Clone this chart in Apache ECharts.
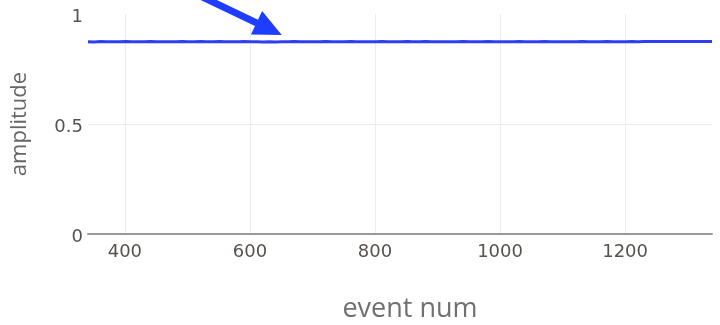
<!DOCTYPE html>
<html>
<head>
<meta charset="utf-8">
<script src="https://cdn.jsdelivr.net/npm/echarts@6/dist/echarts.min.js"></script>
<style>
  html, body { margin: 0; padding: 0; background: #fff; }
  #chart { width: 720px; height: 325px; }
</style>
</head>
<body>
<div id="chart"></div>
<script>
// Event numbers sampled along the run
const eventNum = [
  341, 351, 361, 371, 381, 391, 401, 411, 421, 431,
  441, 451, 461, 471, 481, 491, 501, 511, 521, 531,
  541, 551, 561, 571, 581, 591, 601, 611, 621, 631,
  641, 651, 661, 671, 681, 691, 701, 711, 721, 731,
  741, 751, 761, 771, 781, 791, 801, 811, 821, 831,
  841, 851, 861, 871, 881, 891, 901, 911, 921, 931,
  941, 951, 961, 971, 981, 991, 1001, 1011, 1021, 1031,
  1041, 1051, 1061, 1071, 1081, 1091, 1101, 1111, 1121, 1131,
  1141, 1151, 1161, 1171, 1181, 1191, 1201, 1211, 1221, 1231,
  1241, 1251, 1261, 1271, 1281, 1291, 1301, 1311, 1321, 1331,
  1339
];

// Measured amplitude for each event
const amplitude = [
  0.874, 0.873, 0.8745, 0.8735, 0.874, 0.8735, 0.8745, 0.874, 0.8735, 0.874,
  0.8745, 0.8735, 0.874, 0.8735, 0.874, 0.8745, 0.8735, 0.874, 0.8745, 0.874,
  0.8735, 0.8745, 0.874, 0.8735, 0.874, 0.8745, 0.874, 0.8735, 0.873, 0.8735,
  0.873, 0.8735, 0.874, 0.8745, 0.874, 0.8735, 0.874, 0.8735, 0.8745, 0.874,
  0.8735, 0.874, 0.8745, 0.874, 0.8735, 0.874, 0.8735, 0.8745, 0.874, 0.8735,
  0.874, 0.8745, 0.8735, 0.874, 0.8745, 0.874, 0.8735, 0.874, 0.8735, 0.874,
  0.8745, 0.874, 0.8735, 0.874, 0.8745, 0.8735, 0.874, 0.8735, 0.874, 0.8745,
  0.874, 0.8735, 0.874, 0.8745, 0.874, 0.8735, 0.874, 0.8735, 0.874, 0.8745,
  0.874, 0.8735, 0.874, 0.8745, 0.874, 0.8735, 0.874, 0.8745, 0.874, 0.8745,
  0.875, 0.8745, 0.875, 0.8745, 0.875, 0.8755, 0.875, 0.8745, 0.875, 0.8755,
  0.875
];

// Axis tick labels
const xTicks = [400, 600, 800, 1000, 1200];
const yTicks = [0, 0.5, 1];

// Annotation arrow, in data coordinates (tail -> head)
const arrowFrom = [522, 1.08];
const arrowTo = [651, 0.905];

const chart = echarts.init(document.getElementById('chart'), null, { renderer: 'canvas' });

const tickFont = { fontFamily: 'DejaVu Sans', fontSize: 18, color: '#57524f' };

chart.setOption({
  animation: false,
  backgroundColor: '#ffffff',
  grid: { left: 88, right: 8, top: 14, bottom: 91, containLabel: false, outerBoundsMode: 'none' },
  xAxis: {
    type: 'value',
    min: 341,
    max: 1339,
    splitNumber: 5,
    name: 'event num',
    nameLocation: 'middle',
    nameGap: 62,
    nameTextStyle: { fontFamily: 'Open Sans', fontSize: 27, color: '#707070', padding: [0, 0, 0, 20] },
    axisLine: { show: true, lineStyle: { color: '#9a9a9a', width: 2 } },
    axisTick: { show: false },
    axisLabel: Object.assign({
      margin: 9,
      showMinLabel: true,
      showMaxLabel: true,
      formatter: v => (xTicks.indexOf(v) >= 0 ? String(v) : '')
    }, tickFont),
    splitLine: { show: true, showMinLine: false, showMaxLine: false, lineStyle: { color: '#ececec', width: 1 } }
  },
  yAxis: {
    type: 'value',
    min: 0,
    max: 1,
    interval: 0.5,
    name: 'amplitude',
    nameLocation: 'middle',
    nameRotate: 90,
    nameGap: 57,
    nameTextStyle: { fontFamily: 'Open Sans', fontSize: 22, color: '#666666' },
    axisLine: { show: false },
    axisTick: { show: false },
    axisLabel: Object.assign({
      margin: 5,
      verticalAlign: 'top',
      lineHeight: 7,
      formatter: v => (yTicks.indexOf(v) >= 0 ? String(v) : '')
    }, tickFont),
    splitLine: { show: true, showMinLine: false, showMaxLine: false, lineStyle: { color: '#ececec', width: 1 } }
  },
  series: [{
    type: 'line',
    data: eventNum.map((e, i) => [e, amplitude[i]]),
    showSymbol: false,
    lineStyle: { color: '#2f3ff0', width: 3 },
    z: 3
  }]
});

// Arrow annotation placed through the chart's own coordinate conversion
const tail = chart.convertToPixel({ gridIndex: 0 }, arrowFrom);
const head = chart.convertToPixel({ gridIndex: 0 }, arrowTo);
const dx = head[0] - tail[0], dy = head[1] - tail[1];
const len = Math.sqrt(dx * dx + dy * dy);
const ux = dx / len, uy = dy / len;
const headLen = 28, headHalf = 13;
const bx = head[0] - ux * headLen, by = head[1] - uy * headLen;
const shaftEnd = [head[0] - ux * (headLen - 4), head[1] - uy * (headLen - 4)];

chart.setOption({
  graphic: [
    {
      type: 'line',
      shape: { x1: tail[0], y1: tail[1], x2: shaftEnd[0], y2: shaftEnd[1] },
      style: { stroke: '#1f3dff', lineWidth: 7 },
      z: 10
    },
    {
      type: 'polygon',
      shape: {
        points: [
          [head[0], head[1]],
          [bx - uy * headHalf, by + ux * headHalf],
          [bx + uy * headHalf, by - ux * headHalf]
        ]
      },
      style: { fill: '#1f3dff' },
      z: 10
    }
  ]
});
</script>
</body>
</html>
